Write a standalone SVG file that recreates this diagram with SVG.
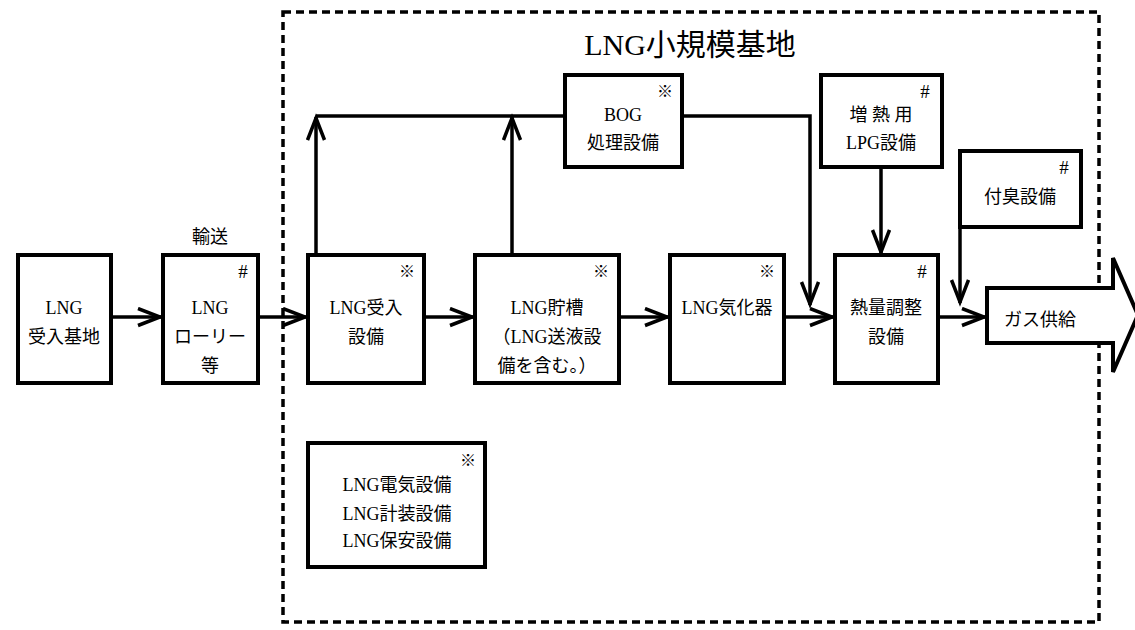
<svg xmlns="http://www.w3.org/2000/svg" width="1135" height="630" viewBox="0 0 1135 630">
<style>
.box{fill:#fff;stroke:#000;stroke-width:4}
.t{font-family:"Liberation Serif","Noto Sans CJK JP",serif;font-size:18px;fill:#000;text-anchor:middle}
.m{font-family:"Noto Sans CJK JP","DejaVu Sans",sans-serif;font-size:16px;fill:#000;text-anchor:middle}
.h{font-family:"Liberation Serif","Noto Sans CJK JP",serif;font-size:19px;fill:#000;text-anchor:middle}
.c{fill:none;stroke:#000;stroke-width:3.5}
</style>
<defs>
<marker id="a" markerUnits="userSpaceOnUse" markerWidth="30" markerHeight="22" refX="25" refY="10" orient="auto">
<path d="M2,1.5 L24,10 L2,18.5" fill="none" stroke="#000" stroke-width="3.5"/>
</marker>
</defs>
<rect id="site" x="283" y="12" width="816" height="610" fill="none" stroke="#000" stroke-width="3.5" stroke-dasharray="8 5"/>
<text x="690" y="55" class="t" style="font-size:30px">LNG小規模基地</text>
<g id="connectors">
<path class="c" d="M111,317 H161" marker-end="url(#a)"/>
<path class="c" d="M258,317 H306" marker-end="url(#a)"/>
<path class="c" d="M424,317 H473" marker-end="url(#a)"/>
<path class="c" d="M619,317 H668" marker-end="url(#a)"/>
<path class="c" d="M784,317 H833" marker-end="url(#a)"/>
<path class="c" d="M938,317 H985" marker-end="url(#a)"/>
<path class="c" d="M316,116 H565"/>
<path class="c" d="M316,255 V117" marker-end="url(#a)"/>
<path class="c" d="M512,255 V117" marker-end="url(#a)"/>
<path class="c" d="M682,116 H810 V305" marker-end="url(#a)"/>
<path class="c" d="M881,167 V253" marker-end="url(#a)"/>
<path class="c" d="M960,227 V303" marker-end="url(#a)"/>
</g>
<g id="n1"><rect class="box" x="18" y="255" width="93" height="128"/>
<text class="t" x="64" y="314">LNG</text><text class="t" x="64" y="343">受入基地</text></g>
<g id="n2"><text class="t" x="210" y="243">輸送</text>
<rect class="box" x="163" y="255" width="95" height="128"/>
<text class="h" x="243" y="278">#</text>
<text class="t" x="210" y="314">LNG</text><text class="t" x="210" y="343">ローリー</text><text class="t" x="210" y="372">等</text></g>
<g id="n3"><rect class="box" x="308" y="255" width="116" height="128"/>
<text class="m" x="407" y="277">※︎</text>
<text class="t" x="366" y="314">LNG受入</text><text class="t" x="366" y="343">設備</text></g>
<g id="n4"><rect class="box" x="475" y="255" width="144" height="128"/>
<text class="m" x="601" y="277">※︎</text>
<text class="t" x="547" y="314">LNG貯槽</text><text class="t" x="547" y="343">（LNG送液設</text><text class="t" x="547" y="372">備を含む。）</text></g>
<g id="n5"><rect class="box" x="670" y="255" width="114" height="128"/>
<text class="m" x="767" y="277">※︎</text>
<text class="t" x="727" y="314">LNG気化器</text></g>
<g id="n6"><rect class="box" x="835" y="255" width="103" height="128"/>
<text class="h" x="922" y="278">#</text>
<text class="t" x="886" y="314">熱量調整</text><text class="t" x="886" y="343">設備</text></g>
<g id="n7"><path d="M987,288 H1113 V258 L1138,315 L1113,372 V343 H987 Z" fill="#fff" stroke="#000" stroke-width="4"/>
<text class="t" x="1040" y="326">ガス供給</text></g>
<g id="n8"><rect class="box" x="565" y="75" width="117" height="92"/>
<text class="m" x="665" y="97">※︎</text>
<text class="t" x="623" y="121">BOG</text><text class="t" x="623" y="149">処理設備</text></g>
<g id="n9"><rect class="box" x="821" y="75" width="121" height="92"/>
<text class="h" x="925" y="98">#</text>
<text class="t" x="881" y="121">増 熱 用</text><text class="t" x="881" y="149">LPG設備</text></g>
<g id="n10"><rect class="box" x="960" y="151" width="121" height="76"/>
<text class="h" x="1064" y="174">#</text>
<text class="t" x="1020" y="203">付臭設備</text></g>
<g id="n11"><rect class="box" x="308" y="443" width="177" height="124"/>
<text class="m" x="468" y="466">※︎</text>
<text class="t" x="397" y="491">LNG電気設備</text><text class="t" x="397" y="520">LNG計装設備</text><text class="t" x="397" y="547">LNG保安設備</text></g>
</svg>
